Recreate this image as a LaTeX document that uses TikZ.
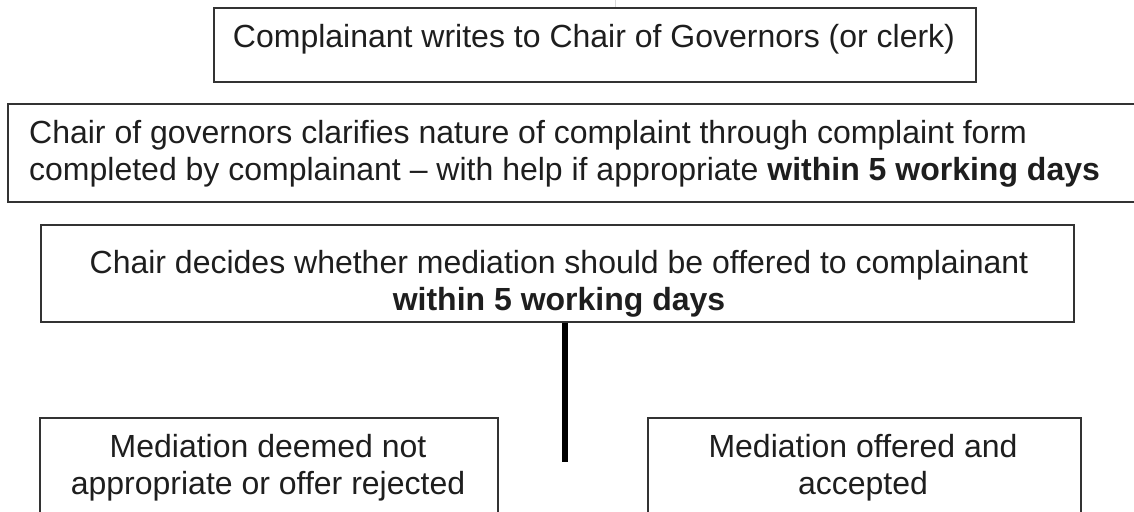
\documentclass[tikz,border=0pt]{standalone}
\usepackage{fontspec}
\setmainfont{Liberation Sans}
\definecolor{txt}{HTML}{1E1E1E}
\definecolor{edge}{HTML}{333333}
\begin{document}
\begin{tikzpicture}[x=1pt,y=-1pt,
  frame/.style={draw=edge,line width=1.6pt,rectangle,inner sep=0pt,anchor=north west},
  words/.style={text=txt,inner sep=0pt,font=\fontsize{32}{37}\selectfont,align=center,anchor=base}]
\useasboundingbox (0,0) rectangle (1134,511);
% faint line at top
\coordinate (g1) at (615,0);
\coordinate (g2) at (615,7);
\draw[black!15,line width=1pt] (g1) -- (g2);
% boxes
\node[frame,minimum width=762pt,minimum height=74pt] (b1) at (213,7) {};
\node[frame,minimum width=1140pt,minimum height=98pt] (b2) at (7,103) {};
\node[frame,minimum width=1033pt,minimum height=97pt] (b3) at (40,224) {};
\node[frame,minimum width=458pt,minimum height=120pt] (b4) at (39,417) {};
\node[frame,minimum width=433pt,minimum height=120pt] (b5) at (647,417) {};
% texts
\node[words] (t1) at (594,48) {Complainant writes to Chair of Governors (or clerk)};
\node[words,anchor=base west,align=left] (t2a) at (29,143) {Chair of governors clarifies nature of complaint through complaint form};
\node[words,anchor=base west,align=left] (t2b) at (29,180) {completed by complainant -- with help if appropriate \textbf{within 5 working days}};
\node[words] (t3a) at (559,273) {Chair decides whether mediation should be offered to complainant};
\node[words] (t3b) at (559,310) {\textbf{within 5 working days}};
\node[words] (t4a) at (268,457) {Mediation deemed not};
\node[words] (t4b) at (268,494) {appropriate or offer rejected};
\node[words] (t5a) at (863,457) {Mediation offered and};
\node[words] (t5b) at (863,494) {accepted};
% connector
\coordinate (c1) at (565,321);
\coordinate (c2) at (565,462);
\draw[black,line width=6pt] (b3.south -| c1) -- (c2);
\end{tikzpicture}
\end{document}
